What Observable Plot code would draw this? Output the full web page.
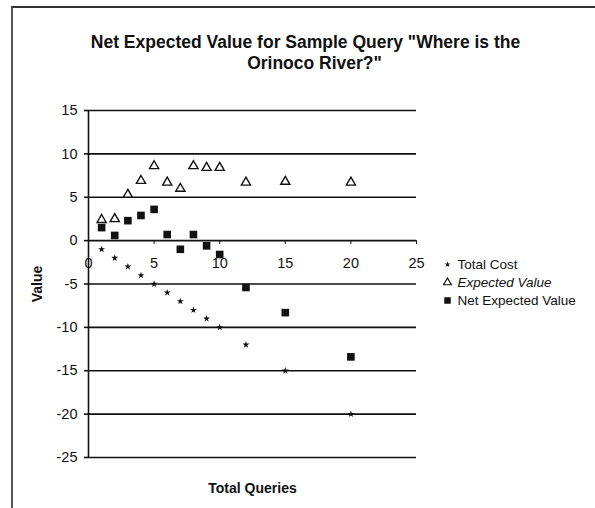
<!DOCTYPE html>
<html><head><meta charset="utf-8">
<script src="https://cdn.jsdelivr.net/npm/d3@7"></script>
<script src="https://cdn.jsdelivr.net/npm/@observablehq/plot@0.6"></script>
<style>
html,body{margin:0;padding:0;background:#fff;}
#wrap{position:relative;width:595px;height:508px;overflow:hidden;background:#fff;}
#wrap svg{position:absolute;left:0;top:0;}
#frame{position:absolute;left:11px;top:6px;right:-5px;bottom:-5px;border-left:2px solid #555;border-top:2px solid #333;pointer-events:none;}
</style></head><body><div id="wrap"></div>
<script>
const queries = [1, 2, 3, 4, 5, 6, 7, 8, 9, 10, 12, 15, 20];
const totalCost = [-1, -2, -3, -4, -5, -6, -7, -8, -9, -10, -12, -15, -20];
const expectedValue = [2.4, 2.5, 5.3, 6.9, 8.6, 6.7, 6.0, 8.6, 8.4, 8.4, 6.7, 6.8, 6.7];
const netExpectedValue = [1.5, 0.6, 2.3, 2.9, 3.6, 0.7, -1.0, 0.7, -0.6, -1.6, -5.4, -8.3, -13.4];
const yTicks = [15, 10, 5, 0, -5, -10, -15, -20, -25];
const xTicks = [0, 5, 10, 15, 20, 25];
const seriesNames = ["Total Cost", "Expected Value", "Net Expected Value"];
const titleLines = ["Net Expected Value for Sample Query \"Where is the", "Orinoco River?\""];

const rows = queries.map((q, i) => ({q, cost: totalCost[i], ev: expectedValue[i], net: netExpectedValue[i]}));
const legendDy = [-19.5, -1.5, 16.5];
const symbols = ["star", "triangle", "square"];
const sizes = [2.2, 3.4, 4.3];

const font = "'Liberation Sans', Arial, sans-serif";

const chart = Plot.plot({
  width: 595,
  height: 508,
  marginLeft: 88,
  marginRight: 179,
  marginTop: 110,
  marginBottom: 51,
  style: {fontFamily: font, fontSize: "14px", color: "#111", background: "transparent"},
  x: {domain: [0, 25], axis: null},
  y: {domain: [-25, 15], axis: null},
  marks: [
    Plot.ruleY(yTicks, {y: d => d, stroke: "#111", strokeWidth: 1.6}),
    Plot.ruleX([0], {x: d => d, stroke: "#111", strokeWidth: 1.6}),
    Plot.ruleX(xTicks.slice(1), {x: d => d, y1: 0, y2: -0.45, stroke: "#111", strokeWidth: 1}),
    Plot.axisY(yTicks, {tickSize: 4, tickPadding: 7, label: null, fontSize: 14.5, tickFormat: d => String(d), stroke: "#111", strokeWidth: 1.6, letterSpacing: "0.4px"}),
    Plot.text(xTicks, {x: d => d, y: 0, dy: 23, text: d => String(d), fontSize: 14.5, fill: "#111", letterSpacing: "0.4px"}),
    Plot.dot(rows, {x: "q", y: "cost", symbol: "star", r: 2.2, fill: "#111", stroke: "none"}),
    Plot.dot(rows, {x: "q", y: "ev", symbol: "triangle", r: 3.4, fill: "white", stroke: "#111", strokeWidth: 1.4}),
    Plot.dot(rows, {x: "q", y: "net", symbol: "square", r: 4.3, fill: "#111", stroke: "none"}),
    Plot.text([titleLines[0]], {frameAnchor: "top-left", dx: 217, dy: -74.5, text: d => d, textAnchor: "middle", fontWeight: "bold", fontSize: 17.5, fill: "#111", letterSpacing: "1.2px"}),
    Plot.text([titleLines[1]], {frameAnchor: "top-left", dx: 226, dy: -53.5, text: d => d, textAnchor: "middle", fontWeight: "bold", fontSize: 17.5, fill: "#111", letterSpacing: "1.2px"}),
    Plot.text(["Value"], {frameAnchor: "left", dx: -51, rotate: -90, text: d => d, textAnchor: "middle", fontWeight: "bold", fontSize: 14, fill: "#111"}),
    Plot.text(["Total Queries"], {frameAnchor: "bottom", dy: 35, text: d => d, textAnchor: "middle", fontWeight: "bold", fontSize: 14, fill: "#111"}),
    ...seriesNames.map((name, i) => Plot.dot([name], {frameAnchor: "right", dx: 31, dy: legendDy[i], symbol: symbols[i], r: sizes[i] * 0.85, fill: i === 1 ? "white" : "#111", stroke: i === 1 ? "#111" : "none", strokeWidth: 1.2})),
    ...seriesNames.map((name, i) => Plot.text([name], {frameAnchor: "right", dx: 41, dy: legendDy[i], text: d => d, textAnchor: "start", fontSize: 13.5, fill: "#111", fontStyle: i === 1 ? "italic" : "normal", letterSpacing: "0.8px"}))
  ]
});
const wrap = document.getElementById("wrap");
wrap.appendChild(chart);
const fr = document.createElement("div");
fr.id = "frame";
wrap.appendChild(fr);
</script></body></html>
